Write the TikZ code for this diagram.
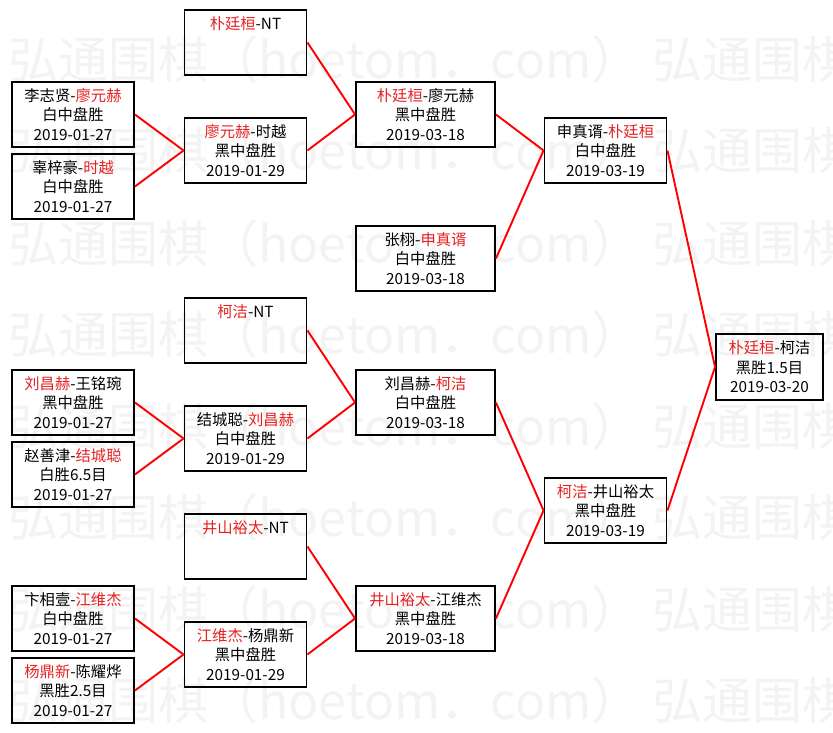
\documentclass[tikz,border=0pt]{standalone}
\usepackage{fontspec}
\setmainfont{Noto Sans CJK SC}
\usepackage{tikz}
\usetikzlibrary{positioning}
\definecolor{winred}{RGB}{230,32,32}
\definecolor{wmgray}{RGB}{243,243,243}
\newcommand{\win}[1]{\textcolor{winred}{#1}}
\tikzset{
  gbox/.style={draw,line width=1.9pt,minimum width=122pt,minimum height=65pt,inner sep=0pt,align=center,font=\fontsize{15.3}{19.5}\selectfont},
  widebox/.style={gbox,minimum width=139pt},
  finalbox/.style={gbox,minimum width=107pt,minimum height=66pt},
  link/.style={red,line width=1.9pt},
  wmark/.style={anchor=west,text=wmgray,inner sep=0pt,font=\fontsize{50}{50}\selectfont}
}

\begin{document}
\begin{tikzpicture}[x=1pt,y=-1pt]
  \useasboundingbox (0,0) rectangle (833,733);
  % watermark rows
  \begin{scope}
    \clip (0,0) rectangle (833,733);
    \foreach \r [count=\i] in {60,151,243,334,426,517,609,700}
      \node[wmark] (wm\i) at (8,\r) {弘通围棋（hoetom．com）\ 弘通围棋};
  \end{scope}
  % first round
  \node[gbox] (a1) at (73,114.5) {李志贤-\win{廖元赫}\\白中盘胜\\2019-01-27};
  \node[gbox] (a2) at (73,186.5) {辜梓豪-\win{时越}\\白中盘胜\\2019-01-27};
  \node[gbox] (a3) at (73,402.5) {\win{刘昌赫}-王铭琬\\黑中盘胜\\2019-01-27};
  \node[gbox] (a4) at (73,474.5) {赵善津-\win{结城聪}\\白胜6.5目\\2019-01-27};
  \node[gbox] (a5) at (73,618.5) {卞相壹-\win{江维杰}\\白中盘胜\\2019-01-27};
  \node[gbox] (a6) at (73,690.5) {\win{杨鼎新}-陈耀烨\\黑胜2.5目\\2019-01-27};
  % second round
  \node[gbox] (b1) at (245.5,42.5) {\win{朴廷桓}-NT\\\mbox{}\\\mbox{}};
  \node[gbox] (b2) at (245.5,150.5) {\win{廖元赫}-时越\\黑中盘胜\\2019-01-29};
  \node[gbox] (b3) at (245.5,330.5) {\win{柯洁}-NT\\\mbox{}\\\mbox{}};
  \node[gbox] (b4) at (245.5,438.5) {结城聪-\win{刘昌赫}\\白中盘胜\\2019-01-29};
  \node[gbox] (b5) at (245.5,546.5) {\win{井山裕太}-NT\\\mbox{}\\\mbox{}};
  \node[gbox] (b6) at (245.5,654.5) {\win{江维杰}-杨鼎新\\黑中盘胜\\2019-01-29};
  % quarter finals
  \node[widebox] (c1) at (425.5,114.5) {\win{朴廷桓}-廖元赫\\黑中盘胜\\2019-03-18};
  \node[widebox] (c2) at (425.5,258.5) {张栩-\win{申真谞}\\白中盘胜\\2019-03-18};
  \node[widebox] (c3) at (425.5,402.5) {刘昌赫-\win{柯洁}\\白中盘胜\\2019-03-18};
  \node[widebox] (c4) at (425.5,618.5) {\win{井山裕太}-江维杰\\黑中盘胜\\2019-03-18};
  % semi finals and final
  \node[gbox] (d1) at (605.5,150.5) {申真谞-\win{朴廷桓}\\白中盘胜\\2019-03-19};
  \node[gbox] (d2) at (605.5,510.5) {\win{柯洁}-井山裕太\\黑中盘胜\\2019-03-19};
  \node[finalbox] (fin) at (769.5,367) {\win{朴廷桓}-柯洁\\黑胜1.5目\\2019-03-20};
  % links
  \draw[link] (a1.east) -- (b2.west); \draw[link] (a2.east) -- (b2.west);
  \draw[link] (a3.east) -- (b4.west); \draw[link] (a4.east) -- (b4.west);
  \draw[link] (a5.east) -- (b6.west); \draw[link] (a6.east) -- (b6.west);
  \draw[link] (b1.east) -- (c1.west); \draw[link] (b2.east) -- (c1.west);
  \draw[link] (b3.east) -- (c3.west); \draw[link] (b4.east) -- (c3.west);
  \draw[link] (b5.east) -- (c4.west); \draw[link] (b6.east) -- (c4.west);
  \draw[link] (c1.east) -- (d1.west); \draw[link] (c2.east) -- (d1.west);
  \draw[link] (c3.east) -- (d2.west); \draw[link] (c4.east) -- (d2.west);
  \draw[link] (d1.east) -- (fin.west); \draw[link] (d2.east) -- (fin.west);
\end{tikzpicture}
\end{document}
